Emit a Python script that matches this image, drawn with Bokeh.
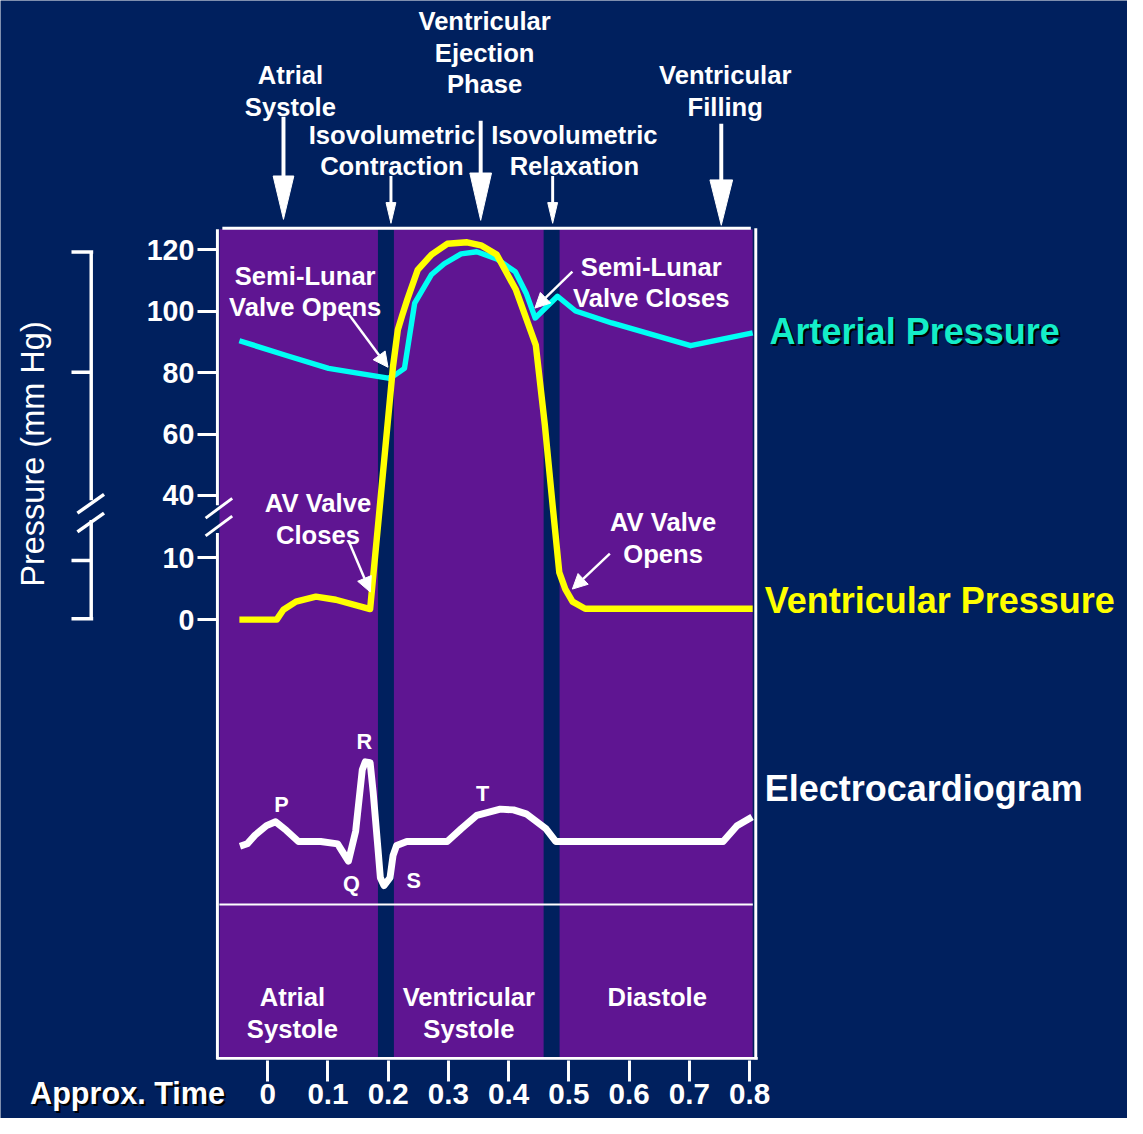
import numpy as np
from bokeh.plotting import figure
from bokeh.models import Range1d, LinearAxis, FixedTicker, Arrow, NormalHead
from bokeh.core.properties import value
from bokeh.embed import file_html
from bokeh.resources import INLINE

# ---------------- data ----------------
time_ticks = [0, 0.1, 0.2, 0.3, 0.4, 0.5, 0.6, 0.7, 0.8]
time_tick_labels = ["0", "0.1", "0.2", "0.3", "0.4", "0.5", "0.6", "0.7", "0.8"]
pressure_ticks = [0, 10, 40, 60, 80, 100, 120]
pressure_tick_labels = ["0", "10", "40", "60", "80", "100", "120"]

phase_names = ["Atrial Systole", "Ventricular Systole", "Diastole"]
phase_start = [-0.08, 0.2095, 0.4845]
phase_end = [0.183, 0.458, 0.805]

vent_time = [-0.047, 0.015, 0.026, 0.047, 0.080, 0.113, 0.170, 0.208, 0.216, 0.223,
             0.232, 0.249, 0.272, 0.298, 0.331, 0.354, 0.380, 0.412, 0.445, 0.460,
             0.473, 0.484, 0.494, 0.506, 0.527, 0.805]
vent_pressure = [0, 0, 1.6, 2.9, 3.7, 3.2, 1.7, 82, 94, 98.5,
                 104, 113.5, 118.5, 122, 122.5, 121.5, 118.5, 107, 89, 63,
                 35, 7.6, 4.9, 2.9, 1.75, 1.75]

art_time = [-0.047, 0.031, 0.101, 0.200, 0.211, 0.227, 0.244, 0.272, 0.293, 0.321,
            0.347, 0.380, 0.411, 0.429, 0.444, 0.481, 0.511, 0.571, 0.702, 0.805]
art_pressure = [90.4, 85.6, 81.4, 78.2, 79.2, 81.4, 102.7, 112.0, 115.5, 118.7,
                119.4, 117.1, 112.9, 105.9, 97.8, 104.9, 100.1, 96.2, 88.8, 93.0]

ecg_time = [-0.046, -0.034, -0.021, -0.002, 0.013, 0.031, 0.051, 0.088, 0.116, 0.134,
            0.146, 0.157, 0.162, 0.170, 0.175, 0.183, 0.187, 0.193, 0.203, 0.208,
            0.214, 0.231, 0.298, 0.321, 0.347, 0.386, 0.408, 0.429, 0.462, 0.478,
            0.756, 0.779, 0.804]
ecg_mv = [-0.06, -0.03, 0.08, 0.2, 0.25, 0.14, 0, 0, -0.03, -0.25,
          0.13, 0.91, 1.01, 1.0, 0.63, -0.09, -0.46, -0.56, -0.46, -0.18,
          -0.05, 0, 0, 0.16, 0.33, 0.41, 0.4, 0.35, 0.16, 0,
          0, 0.2, 0.31]

# ---------------- layout helpers ----------------
NAVY = "#00205E"
PURPLE = "#5F1592"
CYAN = "#00FFF4"
YELLOW = "#FFFF00"
FONT = "Liberation Sans"

W, H = 1127, 1118              # canvas size
REF_W, REF_H = 1143.0, 1134.0  # layout grid the positions below refer to
S = W / REF_W                  # scale for fonts / widths

X0, XS = 271.0, 611.0          # layout pixel of t=0, layout pixels per second


def tx(px):
    return (np.asarray(px, float) - X0) / XS


def uy(py):
    return REF_H - np.asarray(py, float)


def p2u(p):
    """broken pressure scale: 0-10 stretched, 10-40 compressed, 40-120 linear"""
    p = np.asarray(p, float)
    ref = np.where(p <= 10, 628 - 6.3 * p,
                   np.where(p <= 40, 565 - 2.1 * (p - 10), 502 - 3.1125 * (p - 40)))
    return uy(ref)


def e2u(mv):
    return uy(853 - 80 * np.asarray(mv, float))


p = figure(width=W, height=H, title=None,
           x_range=Range1d(float(tx(0)), float(tx(REF_W))),
           y_range=Range1d(float(uy(REF_H)), float(uy(0))),
           x_axis_type=None, y_axis_type=None,
           output_backend="svg", toolbar_location=None, min_border=0)
p.background_fill_color = NAVY
p.border_fill_color = NAVY
p.outline_line_color = None

# phase bands
p.quad(left=phase_start, right=phase_end, bottom=float(uy(1073)), top=float(uy(232)),
       fill_color=PURPLE, line_color=None)


def segs(lst, width=3, color="white"):
    x0 = [float(tx(a[0])) for a in lst]
    y0 = [float(uy(a[1])) for a in lst]
    x1 = [float(tx(a[2])) for a in lst]
    y1 = [float(uy(a[3])) for a in lst]
    p.segment(x0=x0, y0=y0, x1=x1, y1=y1, line_color=color, line_width=width * S)


# frame box and axis break
segs([(225, 231, 761, 231), (220, 232, 220, 512), (220, 540, 220, 1074),
      (766, 231, 766, 1074), (219, 1073, 768, 1073),
      (208, 525, 235, 505), (208, 543, 235, 523)], width=3)
# separator under ECG
segs([(222, 917, 763, 917)], width=2)
# left bracket
segs([(92, 255, 92, 507), (92, 527, 92, 627),
      (72, 255, 94, 255), (72, 377, 92, 377), (72, 568, 92, 568), (72, 627, 94, 627),
      (78, 520, 105, 501), (78, 539, 105, 520)], width=3.5)

# axes (fixed inside the canvas)
xaxis = LinearAxis(fixed_location=float(uy(1075)), ticker=FixedTicker(ticks=time_ticks),
                   major_label_overrides={t: l for t, l in zip(time_ticks, time_tick_labels)})
xaxis.axis_line_color = None
xaxis.major_tick_out = int(round(21 * S))
xaxis.major_tick_in = 0
xaxis.major_tick_line_width = 3 * S
xaxis.major_tick_line_color = "white"
xaxis.minor_tick_line_color = None
xaxis.major_label_standoff = 3
xaxis.major_label_text_font = FONT
xaxis.major_label_text_font_style = "bold"
xaxis.major_label_text_font_size = f"{30 * S:.1f}px"
xaxis.major_label_text_color = "white"
p.add_layout(xaxis, "below")

ptick_pos = [float(v) for v in p2u(pressure_ticks)]
yaxis = LinearAxis(fixed_location=float(tx(220)), ticker=FixedTicker(ticks=ptick_pos),
                   major_label_overrides={t: l for t, l in zip(ptick_pos, pressure_tick_labels)})
yaxis.axis_line_color = None
yaxis.major_tick_out = int(round(20 * S))
yaxis.major_tick_in = 0
yaxis.major_tick_line_width = 3 * S
yaxis.major_tick_line_color = "white"
yaxis.minor_tick_line_color = None
yaxis.major_label_standoff = 3
yaxis.major_label_text_font = FONT
yaxis.major_label_text_font_style = "bold"
yaxis.major_label_text_font_size = f"{29 * S:.1f}px"
yaxis.major_label_text_color = "white"
p.add_layout(yaxis, "left")

# curves
p.line(art_time, p2u(art_pressure), line_color=CYAN, line_width=5.5 * S, line_join="round")
p.line(vent_time, p2u(vent_pressure), line_color=YELLOW, line_width=6.5 * S, line_join="round")
p.line(ecg_time, e2u(ecg_mv), line_color="white", line_width=7 * S, line_join="round")


def text(lines, cx, cy, size, color="white", align="center", style="bold", dy=None, angle=0.0):
    dy = size * 1.23 if dy is None else dy
    xs = [float(tx(cx))] * len(lines)
    ys = [float(uy(cy + i * dy)) for i in range(len(lines))]
    p.text(x=xs, y=ys, text=lines, angle=angle, text_font=value(FONT), text_font_style=style,
           text_font_size=value(f"{size * S:.1f}px"), text_color=color, text_align=align,
           text_baseline="middle")


# top phase labels
text(["Atrial", "Systole"], 294, 76, 26, dy=32)
text(["Ventricular", "Ejection", "Phase"], 491, 21, 26, dy=32)
text(["Isovolumetric", "Contraction"], 397, 136, 26, dy=32)
text(["Isovolumetric", "Relaxation"], 582, 136, 26, dy=32)
text(["Ventricular", "Filling"], 735, 76, 26, dy=32)

# annotations in the box
text(["Semi-Lunar", "Valve Opens"], 309, 279, 26, dy=32)
text(["Semi-Lunar", "Valve Closes"], 660, 270, 26, dy=32)
text(["AV Valve", "Closes"], 322, 510, 26, dy=32)
text(["AV Valve", "Opens"], 672, 529, 26, dy=32)

# ECG wave letters
text(["P"], 285, 815, 22)
text(["R"], 369, 752, 22)
text(["Q"], 356, 896, 22)
text(["S"], 419, 893, 22)
text(["T"], 489, 804, 22)

# bottom phase labels
text(["Atrial", "Systole"], 296, 1011, 26, dy=32)
text(["Ventricular", "Systole"], 475, 1011, 26, dy=32)
text(["Diastole"], 666, 1011, 26)

# right legends
text(["Arterial Pressure"], 782, 338, 36.5, color="#000000", align="left")
text(["Arterial Pressure"], 780, 336, 36.5, color="#14EDC8", align="left")
text(["Ventricular Pressure"], 775, 609, 36.5, color=YELLOW, align="left")
text(["Electrocardiogram"], 775, 799, 36.5, align="left")

# axis titles
text(["Pressure (mm Hg)"], 33, 460, 33, style="normal", angle=np.pi / 2)
text(["Approx. Time"], 32, 1110, 31, color="#000000", align="left")
text(["Approx. Time"], 30, 1108, 31, align="left")

# big phase arrows: shafts + long triangular heads
big = [(287, 118, 178, 222, 10.5, 4), (396, 178, 205, 226, 5, 3), (487, 122, 175, 223, 11, 4),
       (560, 178, 205, 226, 5, 3), (731, 125, 182, 228, 11.5, 4)]
for (ax, top, base, tip, hw, lw) in big:
    segs([(ax, top, ax, base + 2)], width=lw)
p.patches(xs=[[float(tx(a[0] - a[4])), float(tx(a[0] + a[4])), float(tx(a[0]))] for a in big],
          ys=[[float(uy(a[2])), float(uy(a[2])), float(uy(a[3]))] for a in big],
          fill_color="white", line_color="white", line_width=1)

# valve event arrows
for (x0, y0, x1, y1) in [(353, 318, 393, 372), (580, 275, 542, 312),
                         (353, 548, 375, 600), (618, 561, 580, 597)]:
    p.add_layout(Arrow(end=NormalHead(size=15 * S, fill_color="white", line_color="white", line_width=1),
                       x_start=float(tx(x0)), y_start=float(uy(y0)),
                       x_end=float(tx(x1)), y_end=float(uy(y1)),
                       line_color="white", line_width=2.5 * S))

open("out.html", "w").write(file_html(p, INLINE))
